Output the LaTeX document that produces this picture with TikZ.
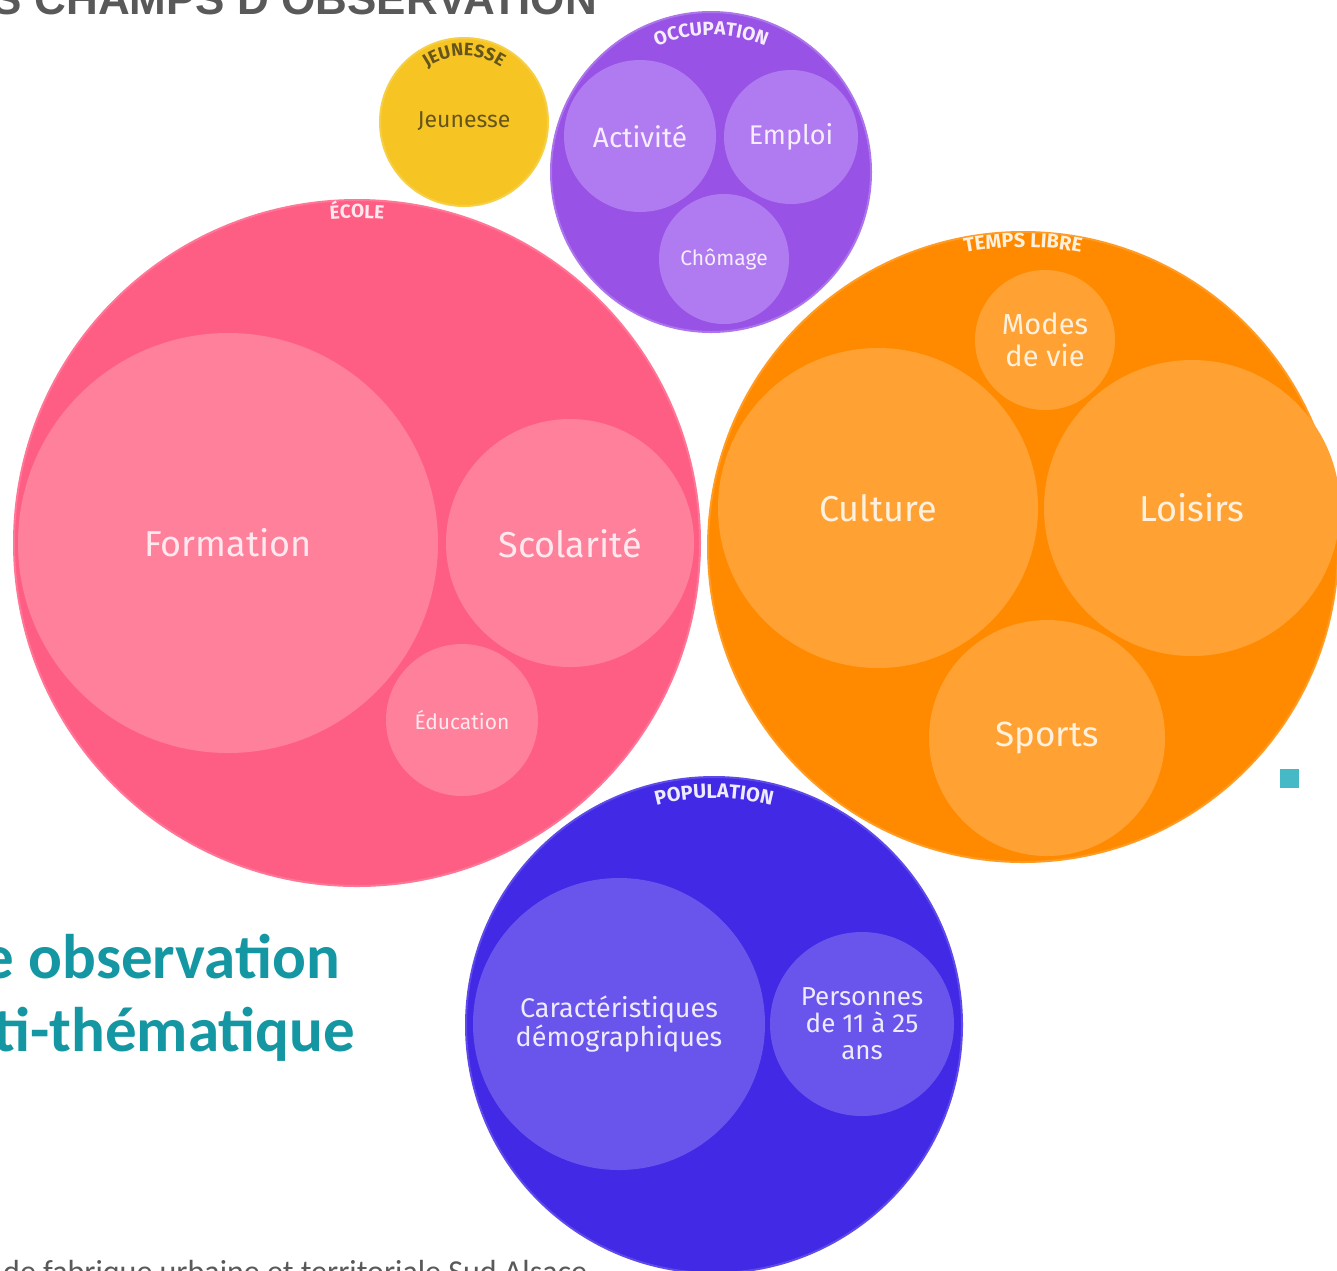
\documentclass[tikz,border=0pt]{standalone}
\usepackage{fontspec}
\setmainfont{Fira Sans}
\newfontfamily\titlefont{Liberation Sans}
\newfontfamily\tealfont{Carlito}
\usetikzlibrary{decorations.text}
\definecolor{pinkA}{HTML}{FF5E84}
\definecolor{pinkB}{HTML}{FF809B}
\definecolor{pinkT}{HTML}{FFE9EF}
\definecolor{yellowA}{HTML}{F7C523}
\definecolor{yellowR}{HTML}{F5CF45}
\definecolor{yellowT}{HTML}{65551C}
\definecolor{purpA}{HTML}{9853E6}
\definecolor{purpB}{HTML}{B07BF0}
\definecolor{purpT}{HTML}{F5EDFF}
\definecolor{orA}{HTML}{FF8A00}
\definecolor{orB}{HTML}{FFA233}
\definecolor{orT}{HTML}{FFF1DE}
\definecolor{blueA}{HTML}{4129E5}
\definecolor{blueB}{HTML}{6A55EC}
\definecolor{blueT}{HTML}{EEEBFF}
\definecolor{titlegrey}{HTML}{595959}
\definecolor{tealc}{HTML}{1497A3}
\definecolor{tealsq}{HTML}{45B9C6}
\begin{document}
\begin{tikzpicture}[x=1pt,y=-1pt,
  outer/.style={circle,inner sep=0pt,line width=2pt},
  inner/.style={circle,inner sep=0pt,align=center},
  lbl/.style 2 args={font=\fontsize{#1}{#2}\selectfont}]
\useasboundingbox (0,0) rectangle (1337,1270);
\clip (0,0) rectangle (1337,1270);
\fill[white] (0,0) rectangle (1337,1270);

% texts of the slide
\node[anchor=base east,inner sep=0pt,text=titlegrey,font=\titlefont\bfseries\fontsize{44}{44}\selectfont] (title) at (597,14) {LES CHAMPS D’OBSERVATION};
\node[anchor=base east,inner sep=0pt,text=tealc,font=\tealfont\bfseries\fontsize{63}{63}\selectfont] (obs1) at (340,978) {Une observation};
\node[anchor=base east,inner sep=0pt,text=tealc,font=\tealfont\bfseries\fontsize{63}{63}\selectfont] (obs2) at (355,1051) {multi-thématique};
\node[anchor=base west,inner sep=0pt,text=titlegrey,font=\tealfont\fontsize{32}{32}\selectfont] (foot) at (3,1282) {de fabrique urbaine et territoriale Sud Alsace};
\node[fill=tealsq,minimum size=19pt,inner sep=0pt] (sq) at (1289.5,778.5) {};

% JEUNESSE
\node[outer,minimum size=168pt,fill=yellowA,draw=yellowR] (jeunesse) at (464,122) {};
\node[text=yellowT,lbl={23}{26}] (jeunesselbl) at (464,121) {Jeunesse};

% OCCUPATION
\node[outer,minimum size=320pt,fill=purpA,draw=purpA!80!white] (occupation) at (711,172) {};
\node[inner,minimum size=152pt,fill=purpB,text=purpT,lbl={28}{30}] (activite) at (640,136) {Activité};
\node[inner,minimum size=134pt,fill=purpB,text=purpT,lbl={27}{30}] (emploi) at (791,137) {Emploi};
\node[inner,minimum size=130pt,fill=purpB,text=purpT,lbl={21}{24}] (chomage) at (724,259) {Chômage};

% ECOLE
\node[outer,minimum size=686pt,fill=pinkA,draw=pinkA!85!white] (ecole) at (357,543) {};
\node[inner,minimum size=420pt,fill=pinkB,text=pinkT,lbl={36}{40}] (formation) at (228,543) {Formation};
\node[inner,minimum size=248pt,fill=pinkB,text=pinkT,lbl={36}{40}] (scolarite) at (570,543) {Scolarité};
\node[inner,minimum size=152pt,fill=pinkB,text=pinkT,lbl={21}{24}] (education) at (462,720) {Éducation};

% TEMPS LIBRE
\node[outer,minimum size=630pt,fill=orA,draw=orA!85!white] (temps) at (1023,547) {};
\node[inner,minimum size=140pt,fill=orB,text=orT,lbl={29}{32}] (modes) at (1045,340) {Modes\\de vie};
\node[inner,minimum size=320pt,fill=orB,text=orT,lbl={36}{40}] (culture) at (878,508) {Culture};
\node[inner,minimum size=296pt,fill=orB,text=orT,lbl={36}{40}] (loisirs) at (1192,508) {Loisirs};
\node[inner,minimum size=236pt,fill=orB,text=orT,lbl={35}{40}] (sports) at (1047,738) {Sports};

% POPULATION
\node[outer,minimum size=496pt,fill=blueA,draw=blueA!85!white] (population) at (714,1025) {};
\node[inner,minimum size=292pt,fill=blueB,text=blueT,lbl={27}{29}] (caract) at (619,1024) {Caractéristiques\\démographiques};
\node[inner,minimum size=184pt,fill=blueB,text=blueT,lbl={26}{27}] (personnes) at (862,1024) {Personnes\\de 11 à 25\\ans};

% curved titles
\path[decorate,decoration={text along path,text align=center,text color=yellowT,
  text={|\fontsize{18}{18}\selectfont\bfseries|JEUNESSE}}]
  (jeunesse.center) ++(165:66pt) arc[start angle=165,end angle=15,radius=66pt];
\path[decorate,decoration={text along path,text align=center,text color=purpT,
  text={|\fontsize{19}{19}\selectfont\bfseries|OCCUPATION}}]
  (occupation.center) ++(135:137pt) arc[start angle=135,end angle=45,radius=137pt];
\path[decorate,decoration={text along path,text align=center,text color=pinkT,
  text={|\fontsize{19}{19}\selectfont\bfseries|ÉCOLE}}]
  (ecole.center) ++(110:325pt) arc[start angle=110,end angle=70,radius=325pt];
\path[decorate,decoration={text along path,text align=center,text color=orT,
  text={|\fontsize{20}{20}\selectfont\bfseries|TEMPS LIBRE}}]
  (temps.center) ++(120:300pt) arc[start angle=120,end angle=60,radius=300pt];
\path[decorate,decoration={text along path,text align=center,text color=blueT,
  text={|\fontsize{20}{20}\selectfont\bfseries|POPULATION}}]
  (population.center) ++(125:227pt) arc[start angle=125,end angle=55,radius=227pt];
\end{tikzpicture}
\end{document}
